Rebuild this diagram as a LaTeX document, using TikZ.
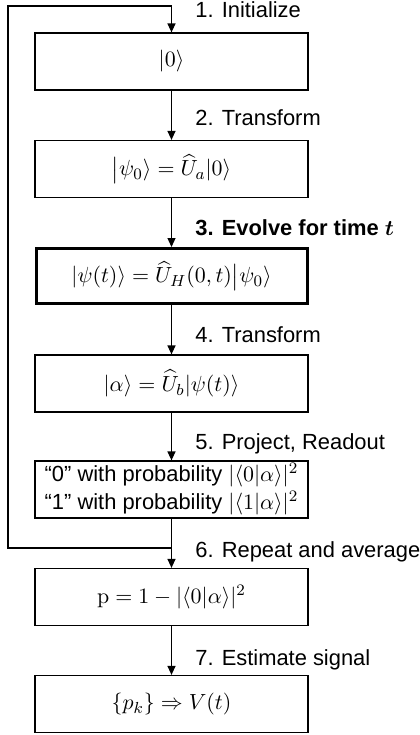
\documentclass[tikz,border=0pt,11pt]{standalone}
\usepackage{amsmath}
\usepackage{bm}
\usepackage[no-math]{fontspec}
\setmainfont{Liberation Sans}
\usetikzlibrary{arrows.meta}
\begin{document}
\begin{tikzpicture}[x=0.5pt,y=-0.5pt,
  box/.style={draw, line width=0.6pt, minimum width=136.5pt, minimum height=28.5pt, inner sep=0pt, align=center},
  thickbox/.style={box, line width=1.5pt, minimum width=135.5pt, minimum height=27.5pt},
  lbl/.style={anchor=base west, inner sep=0pt},
  conn/.style={line width=0.6pt, -{Triangle[length=4.5pt,width=4pt]}}]
\useasboundingbox (0,0) rectangle (419,735);
\node[box] (b1) at (171.5,61.5) {$|0\rangle$};
\node[box] (b2) at (171.5,169) {$\big|\psi_0\rangle = \widehat{U}_a|0\rangle$};
\node[thickbox] (b3) at (171.5,276) {$|\psi(t)\rangle = \widehat{U}_H(0,t)\big|\psi_0\rangle$};
\node[box] (b4) at (171.5,383.5) {$|\alpha\rangle = \widehat{U}_b|\psi(t)\rangle$};
\node[box, font={\fontsize{10.95}{14}\selectfont}] (b5) at (171.5,489.5) {“0” with probability $|\langle 0|\alpha\rangle|^2$\\“1” with probability $|\langle 1|\alpha\rangle|^2$};
\node[box] (b6) at (171.5,597) {$\mathrm{p} = 1 - |\langle 0|\alpha\rangle|^2$};
\node[box] (b7) at (171.5,704) {$\{p_k\} \Rightarrow V(t)$};
\coordinate (j) at (171.5,548);
\coordinate (bl) at (8,548);
\coordinate (tl) at (8,6);
\coordinate (tr) at (171.5,6);
\draw[conn] (b1) -- (b2);
\draw[conn] (b2) -- (b3);
\draw[conn] (b3) -- (b4);
\draw[conn] (b4) -- (b5);
\draw[conn] (b5) -- (b6);
\draw[conn] (b6) -- (b7);
\draw[conn] (j) -- (bl) -- (tl) -- (tr) -- (b1.north);
\node[lbl] (l1) at (195,17) {1. Initialize};
\node[lbl] (l2) at (195,125) {2. Transform};
\node[lbl] (l3) at (195,235) {\textbf{3. Evolve for time} $\bm{t}$};
\node[lbl] (l4) at (195,342) {4. Transform};
\node[lbl] (l5) at (195,449) {5. Project, Readout};
\node[lbl] (l6) at (195,557) {6. Repeat and average};
\node[lbl] (l7) at (195,665) {7. Estimate signal};
\end{tikzpicture}
\end{document}
